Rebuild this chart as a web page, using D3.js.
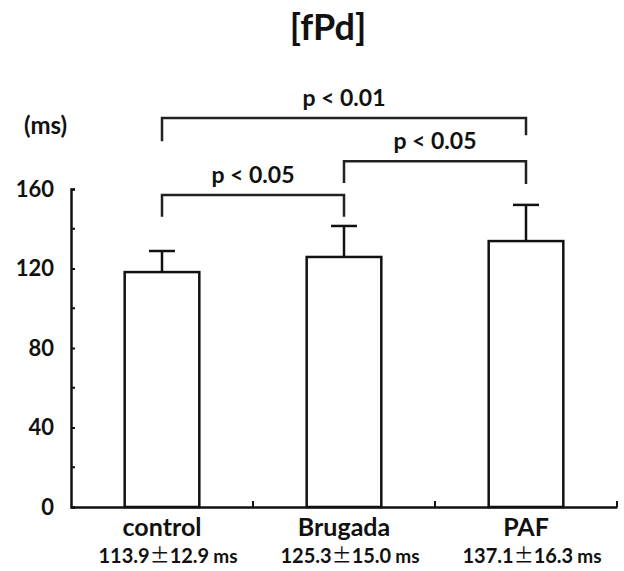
<!DOCTYPE html>
<html>
<head>
<meta charset="utf-8">
<script src="https://cdn.jsdelivr.net/npm/d3@7"></script>
<style>
  body { margin: 0; background: #fff; }
  svg text { font-family: Lato, "Open Sans", sans-serif; font-weight: bold; fill: #111; }
</style>
</head>
<body>
<div id="chart"></div>
<script>
const groups = ["control", "Brugada", "PAF"]
const means = [118.2, 125.8, 133.8]
const errors = [10.6, 15.6, 18.2]
const summaryMeans = ["113.9", "125.3", "137.1"]
const summarySD = ["12.9", "15.0", "16.3"]
const majorTicks = [0, 40, 80, 120, 160]
const minorTicks = [20, 60, 100, 140]
// significance brackets: from group, to group, bar level, left drop, right drop
const brackets = [
  { from: "control", to: "Brugada", level: 157, dropL: 146, dropR: 146, label: "p < 0.05" },
  { from: "Brugada", to: "PAF", level: 174, dropL: 163, dropR: 162.5, label: "p < 0.05" },
  { from: "control", to: "PAF", level: 195.7, dropL: 184, dropR: 187, label: "p < 0.01" }
]

const width = 624, height = 571
const margin = { top: 189, right: 7, bottom: 64, left: 71 }

const svg = d3.select("#chart").append("svg")
  .attr("width", width).attr("height", height)

const x = d3.scaleBand().domain(groups)
  .range([margin.left, width - margin.right])
const y = d3.scaleLinear().domain([0, 160])
  .range([height - margin.bottom, margin.top])

const barW = x.bandwidth() * 0.41
const cx = g => x(g) + x.bandwidth() / 2

svg.append("text")
  .attr("x", 328).attr("y", 40)
  .attr("text-anchor", "middle").attr("font-size", 36)
  .text("[fPd]")

svg.append("text")
  .attr("x", 24).attr("y", 134).attr("font-size", 24)
  .text("(ms)")

// bars
groups.forEach((g, i) => {
  svg.append("line")
    .attr("x1", cx(g)).attr("x2", cx(g))
    .attr("y1", y(means[i])).attr("y2", y(means[i] + errors[i]))
    .attr("stroke", "#111").attr("stroke-width", 2.5)
  svg.append("line")
    .attr("x1", cx(g) - 13).attr("x2", cx(g) + 13)
    .attr("y1", y(means[i] + errors[i])).attr("y2", y(means[i] + errors[i]))
    .attr("stroke", "#111").attr("stroke-width", 2.5)
  svg.append("rect")
    .attr("x", cx(g) - barW / 2).attr("y", y(means[i]))
    .attr("width", barW).attr("height", y(0) - y(means[i]))
    .attr("fill", "#fff").attr("stroke", "#111").attr("stroke-width", 2.5)
})

// y axis
const yAxis = svg.append("g")
  .attr("transform", `translate(${margin.left},0)`)
  .call(d3.axisLeft(y).tickValues(majorTicks).tickSize(-4).tickPadding(17))
yAxis.select(".domain").attr("stroke", "#111").attr("stroke-width", 2.5)
yAxis.selectAll(".tick line").attr("stroke", "#111").attr("stroke-width", 2)
yAxis.selectAll("text").attr("font-size", 22).attr("font-family", null)

svg.append("g").selectAll("line")
  .data(minorTicks).join("line")
  .attr("x1", margin.left).attr("x2", margin.left + 4)
  .attr("y1", d => y(d)).attr("y2", d => y(d))
  .attr("stroke", "#111").attr("stroke-width", 2)

// x axis
const xAxis = svg.append("g")
  .attr("transform", `translate(0,${y(0)})`)
  .call(d3.axisBottom(x).tickSize(0).tickPadding(11))
xAxis.select(".domain").attr("stroke", "#111").attr("stroke-width", 2.5)
xAxis.selectAll("text").attr("font-size", 25).attr("font-family", null)

svg.append("g").selectAll("line")
  .data(groups).join("line")
  .attr("x1", g => x(g) + x.bandwidth()).attr("x2", g => x(g) + x.bandwidth())
  .attr("y1", y(0)).attr("y2", y(0) - 6)
  .attr("stroke", "#111").attr("stroke-width", 2)

// mean ± SD under each label
const sums = svg.append("g").selectAll("text")
  .data(groups).join("text")
  .attr("x", g => cx(g) + 6).attr("y", 563)
  .attr("text-anchor", "middle").attr("font-size", 20)
sums.append("tspan").text((g, i) => summaryMeans[i])
sums.append("tspan").attr("font-family", "'Noto Sans CJK JP'").attr("font-weight", "normal")
  .text("\u00b1")
sums.append("tspan").text((g, i) => summarySD[i])
sums.append("tspan").attr("dx", 4).attr("font-size", 19).text("ms")

// brackets
brackets.forEach(b => {
  const x1 = cx(b.from), x2 = cx(b.to)
  svg.append("path")
    .attr("d", `M${x1},${y(b.dropL)}V${y(b.level)}H${x2}V${y(b.dropR)}`)
    .attr("fill", "none").attr("stroke", "#222").attr("stroke-width", 2.5)
  svg.append("text")
    .attr("x", (x1 + x2) / 2).attr("y", y(b.level) - 12)
    .attr("text-anchor", "middle").attr("font-size", 23)
    .text(b.label)
})
</script>
</body>
</html>
